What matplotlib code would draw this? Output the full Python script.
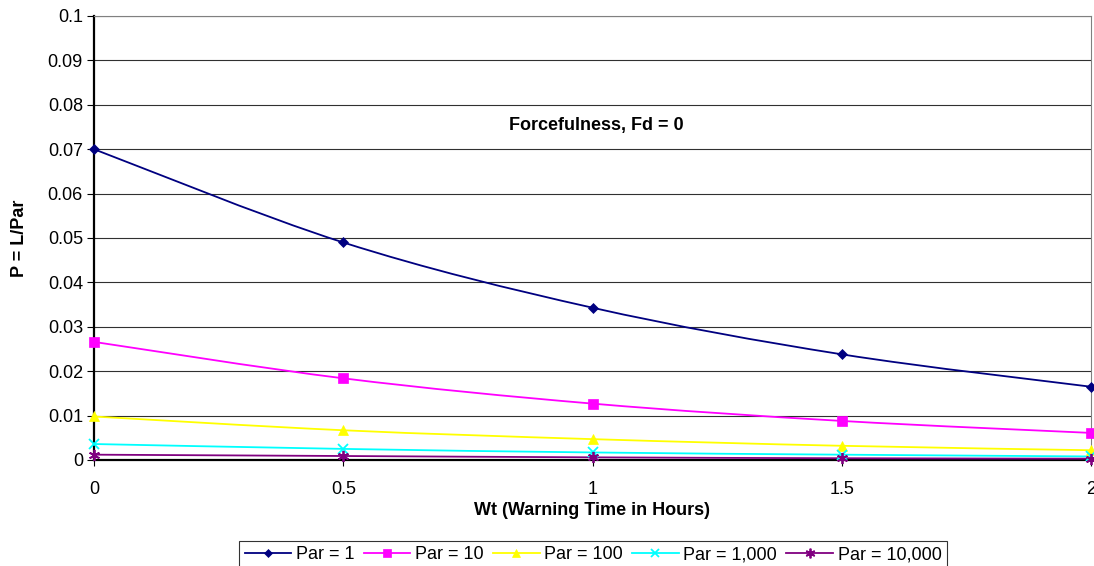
import numpy as np
import matplotlib.pyplot as plt
from matplotlib.path import Path
from matplotlib.patches import PathPatch
from matplotlib.lines import Line2D

plt.rcParams['font.family'] = ['Liberation Sans', 'DejaVu Sans']

# warning time (hours)
wt = [0, 0.5, 1, 1.5, 2]

# probability of life loss P = L/Par for each population at risk
p_par1 = [0.070, 0.049, 0.0343, 0.0238, 0.0165]
p_par10 = [0.0266, 0.0184, 0.0127, 0.0088, 0.0061]
p_par100 = [0.0098, 0.0067, 0.0047, 0.0032, 0.0022]
p_par1000 = [0.0036, 0.0025, 0.0017, 0.0012, 0.0008]
p_par10000 = [0.0012, 0.0009, 0.0006, 0.0004, 0.0003]

labels = ["Par = 1", "Par = 10", "Par = 100", "Par = 1,000", "Par = 10,000"]
series = [p_par1, p_par10, p_par100, p_par1000, p_par10000]
colors = ["#000080", "#FF00FF", "#FFFF00", "#00FFFF", "#800080"]
markers = ["D", "s", "^", "x", (6, 2, 0)]
msizes = [5, 7, 7, 7, 8]

FS = 13


def smooth_path(xs, ys):
    # Catmull-Rom style bezier segments through the points
    pts = np.column_stack([xs, ys]).astype(float)
    n = len(pts)
    verts = [pts[0]]
    codes = [Path.MOVETO]
    for i in range(n - 1):
        p0 = pts[i - 1] if i > 0 else pts[i]
        p1 = pts[i]
        p2 = pts[i + 1]
        p3 = pts[i + 2] if i + 2 < n else pts[i + 1]
        c1 = p1 + (p2 - p0) / 6.0
        c2 = p2 - (p3 - p1) / 6.0
        verts += [c1, c2, p2]
        codes += [Path.CURVE4] * 3
    return Path(verts, codes)


fig = plt.figure(figsize=(10.94, 5.66), dpi=100)
ax = fig.add_axes([94 / 1094, 1 - 460 / 566, 997 / 1094, 444 / 566])

handles = []
for ys, lab, c, m, ms in zip(series, labels, colors, markers, msizes):
    patch = PathPatch(smooth_path(wt, ys), facecolor="none", edgecolor=c, lw=1.3, zorder=3,
                      clip_on=False)
    ax.add_patch(patch)
    mew = 1.3 if m in ("x", (6, 2, 0)) else 0.5
    ax.plot(wt, ys, linestyle="none", marker=m, color=c, markersize=ms,
            markeredgewidth=mew, zorder=4, clip_on=False)
    handles.append(Line2D([], [], color=c, lw=1.3, marker=m, markersize=ms - 1,
                          markeredgewidth=mew, label=lab))

ax.set_xlim(0, 2)
ax.set_ylim(0, 0.1)
ax.set_xticks([0, 0.5, 1, 1.5, 2])
ax.set_xticklabels(["0", "0.5", "1", "1.5", "2"])
ax.set_yticks(np.arange(0, 0.1001, 0.01))
ax.set_yticklabels(["0", "0.01", "0.02", "0.03", "0.04", "0.05", "0.06", "0.07", "0.08", "0.09", "0.1"])
ax.yaxis.grid(True, color="#303030", lw=0.8)
ax.set_axisbelow(True)
ax.tick_params(axis="both", labelsize=FS, colors="black")
ax.tick_params(axis="x", direction="inout", length=8, pad=11)
ax.tick_params(axis="y", direction="out", length=5, pad=3)

for side in ("top", "right"):
    ax.spines[side].set_color("#808080")
    ax.spines[side].set_linewidth(0.8)
for side in ("left", "bottom"):
    ax.spines[side].set_color("black")
    ax.spines[side].set_linewidth(1.6)

ax.set_xlabel("Wt (Warning Time in Hours)", fontsize=FS, fontweight="bold", labelpad=3)
ax.set_ylabel("P = L/Par", fontsize=FS, fontweight="bold", labelpad=14)

ax.text(1.007, 0.0753, "Forcefulness, Fd = 0", fontsize=FS, fontweight="bold",
        ha="center", va="center")

leg = fig.legend(handles=handles, loc="upper center", bbox_to_anchor=(593 / 1094, 1 - 532 / 566),
                 ncol=5, fontsize=FS, frameon=True, fancybox=False, handlelength=2.6,
                 handletextpad=0.25, columnspacing=0.5, borderpad=0.3, edgecolor="black")
leg.get_frame().set_linewidth(0.8)

fig.savefig("out.png", dpi=100)
